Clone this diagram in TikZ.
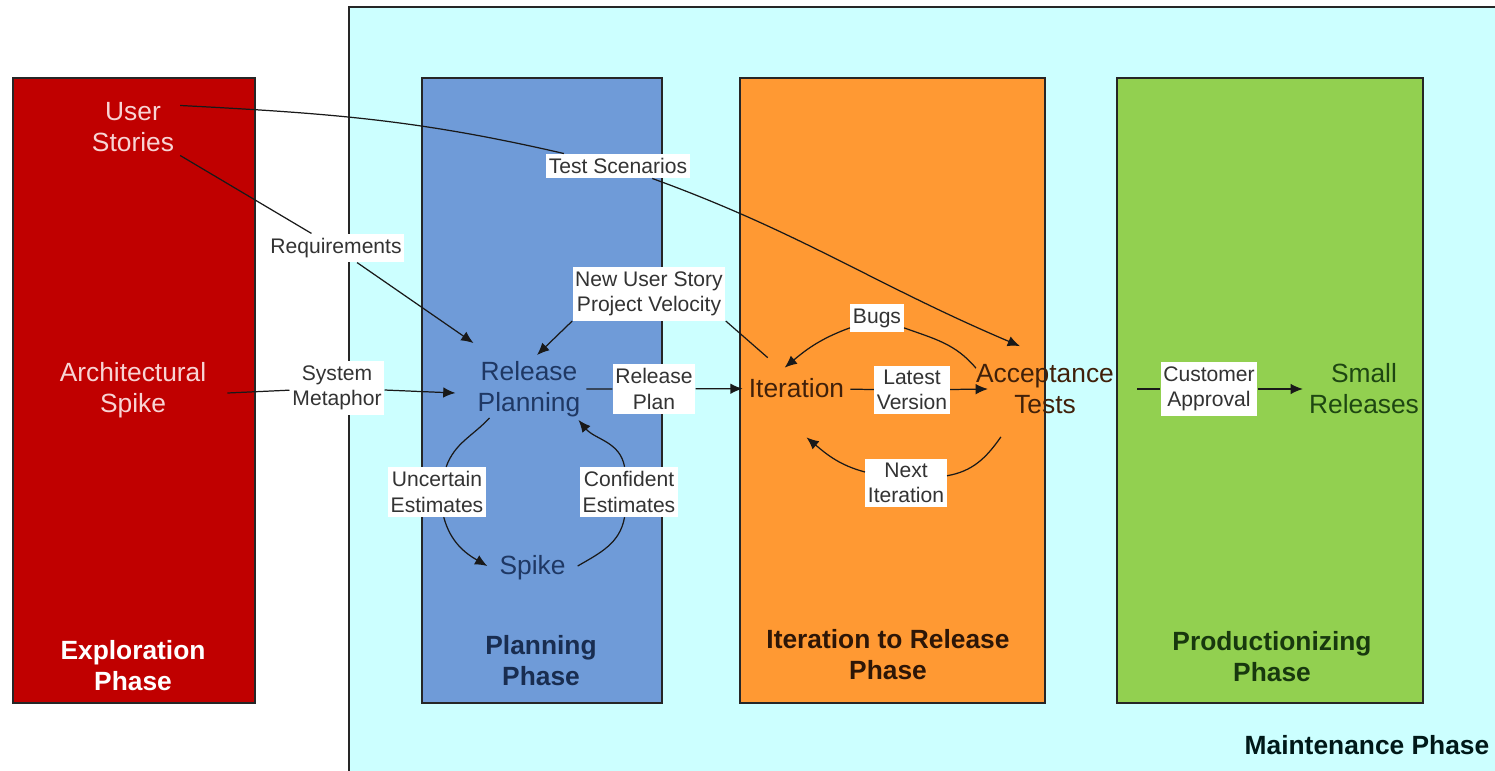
\documentclass[tikz,border=0pt]{standalone}
\usepackage{fontspec}
\setmainfont{Liberation Sans}
\usetikzlibrary{arrows.meta}
\tikzset{>={Latex[length=7pt,width=6pt]}}

\definecolor{maintcyan}{HTML}{CCFFFF}
\definecolor{explred}{HTML}{C00000}
\definecolor{planblue}{HTML}{6F9BD8}
\definecolor{iterorange}{HTML}{FF9933}
\definecolor{prodgreen}{HTML}{92D050}
\definecolor{pinktext}{HTML}{F8D4D4}
\definecolor{navytext}{HTML}{1F3864}
\definecolor{browntext}{HTML}{40200A}
\definecolor{greentext}{HTML}{1E4612}
\definecolor{lbltext}{HTML}{333333}

\tikzset{
  phasebox/.style={draw=black!85,line width=1pt},
  item/.style={align=center,font=\fontsize{15}{17.6}\selectfont},
  phasetitle/.style={align=center,font=\bfseries\fontsize{15}{17.6}\selectfont},
  lbl/.style={fill=white,align=center,text=lbltext,inner xsep=1.5pt,inner ysep=2.5pt,
    font=\fontsize{12}{14.5}\selectfont},
  conn/.style={draw=black!90,line width=0.7pt,->},
}

\begin{document}
\begin{tikzpicture}[x=0.02cm,y=0.02cm]
  \useasboundingbox (0,0) rectangle (1495,-771);

  % maintenance phase runs off the page
  \fill[maintcyan] (349,-7) rectangle (1510,-785);
  \draw[phasebox] (349,-785) -- (349,-7) -- (1510,-7);

  \draw[phasebox,fill=explred] (13,-78) rectangle (255,-703);
  \draw[phasebox,fill=planblue] (422,-78) rectangle (662,-703);
  \draw[phasebox,fill=iterorange] (740,-78) rectangle (1045,-703);
  \draw[phasebox,fill=prodgreen] (1117,-78) rectangle (1423,-703);

  \node[phasetitle,text=white] (explph) at (133,-666) {Exploration\\Phase};
  \node[phasetitle,text=navytext!80!black] (planph) at (541,-661) {Planning\\Phase};
  \node[phasetitle,text=browntext!70!black] (iterph) at (888,-655) {Iteration to Release\\Phase};
  \node[phasetitle,text=greentext!80!black] (prodph) at (1272,-657) {Productionizing\\Phase};
  \node[phasetitle,text=black!80!teal] (maintph) at (1367,-745) {Maintenance Phase};

  \node[item,text=pinktext] (userst) at (133,-127.5) {User\\Stories};
  \node[item,text=pinktext] (archsp) at (133,-390) {Architectural\\Spike};
  \node[item,text=navytext] (relplan) at (529,-389) {Release\\Planning};
  \node[item,text=navytext] (spike) at (532.5,-568) {Spike};
  \node[item,text=browntext] (iter) at (796.5,-388.5) {Iteration};
  \node[item,text=browntext] (acctest) at (1045,-389) {Acceptance\\Tests};
  \node[item,text=greentext] (smallrel) at (1364,-389) {Small\\Releases};

  \node[lbl] (req) at (336,-248) {Requirements};
  \node[lbl] (testsc) at (618,-166) {Test Scenarios};
  \node[lbl] (sysmet) at (337,-388) {System\\Metaphor};
  \node[lbl] (newstory) at (649,-294) {New User Story\\Project Velocity};
  \node[lbl] (relplanlbl) at (654,-389) {Release\\Plan};
  \node[lbl] (uncert) at (437,-492) {Uncertain\\Estimates};
  \node[lbl] (confid) at (629,-492) {Confident\\Estimates};
  \node[lbl] (bugs) at (877,-318) {Bugs};
  \node[lbl] (latest) at (912,-390) {Latest\\Version};
  \node[lbl] (nextit) at (906,-483) {Next\\Iteration};
  \node[lbl] (custappr) at (1209,-389) {Customer\\Approval};

  \draw[conn] (userst.25) to[out=-3,in=167] (testsc)
    to[out=-20,in=157] ([shift={(-25,12)}]acctest.north);
  \draw[conn] (userst) -- (req) -- ([shift={(2,12)}]relplan.north west);
  \draw[conn] ([shift={(15,-3)}]archsp.east) -- (sysmet) -- ([shift={(-16,-4)}]relplan.west);
  \draw[conn] ([shift={(25,15)}]iter.north west) -- (newstory.south east)
    (newstory.south west) -- ([shift={(8,0)}]relplan.north);
  \draw[conn] (relplan) -- (relplanlbl) -- (iter);
  \draw[conn] ([shift={(18,5)}]relplan.south west) to[out=-133,in=70] (uncert)
    to[out=-75,in=150] ([shift={(-6,2)}]spike.west);
  \draw[conn] ([shift={(6,2)}]spike.east) to[out=30,in=-100] (confid)
    to[out=100,in=-50] ([shift={(-8,3)}]relplan.south east);
  \draw[conn] (iter) -- (latest) -- ([shift={(18,0)}]acctest.west);
  \draw[conn] ([shift={(6,-10)}]acctest.north west) to[out=130,in=-20] (bugs)
    to[out=200,in=40] ([shift={(42,5)}]iter.north west);
  \draw[conn] ([shift={(31,-17)}]acctest.south west) to[out=-125,in=10] (nextit)
    to[out=165,in=-40] ([shift={(10,-33)}]iter.south);
  \draw[conn] ([shift={(17,0)}]acctest.east) -- (custappr) -- (smallrel);
\end{tikzpicture}
\end{document}
